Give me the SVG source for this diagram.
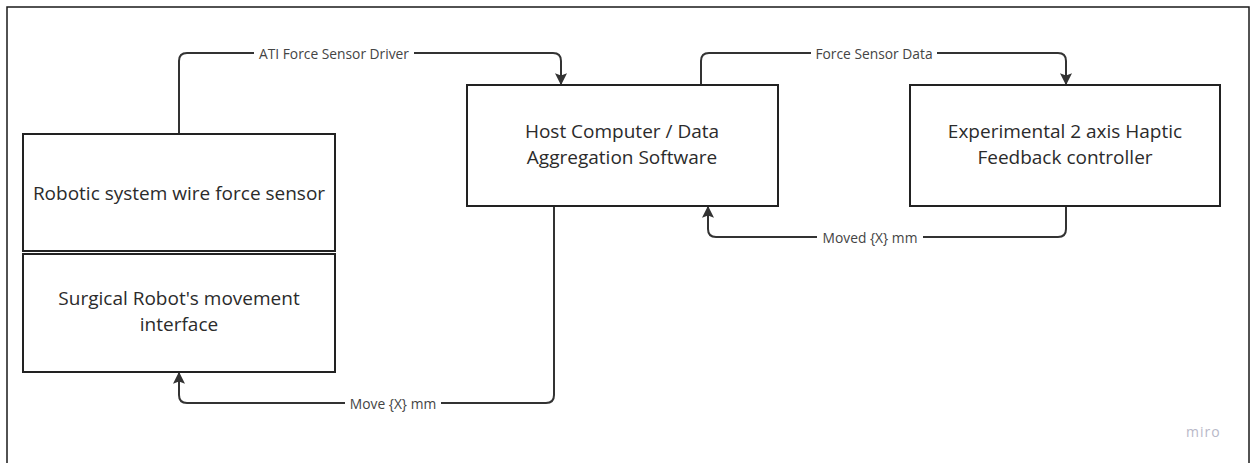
<svg xmlns="http://www.w3.org/2000/svg" width="1253" height="463" viewBox="0 0 1253 463">
<style>
.frame{fill:#fff;stroke:#1a1a1a;stroke-width:1.5}
.box{fill:#fff;stroke:#222;stroke-width:2}
.t{font-family:"Open Sans","Liberation Sans",sans-serif;font-size:19px;fill:#2b2b2b;text-anchor:middle;dominant-baseline:central}
.lbl{font-family:"Open Sans","Liberation Sans",sans-serif;font-size:13.8px;fill:#444;text-anchor:middle;dominant-baseline:central}
.lblbg{fill:#fff}
.c{fill:none;stroke:#333;stroke-width:2;stroke-linejoin:round}
.miro{font-family:"Open Sans","Liberation Sans",sans-serif;font-size:14px;fill:#b8b8c8;letter-spacing:1px}
</style>
<defs>
<marker id="ah" viewBox="0 0 10 10" refX="9" refY="5" markerWidth="6" markerHeight="6" orient="auto" markerUnits="strokeWidth">
<path d="M0,0 L10,5 L0,10 L2,5 z" fill="#333"/>
</marker>
</defs>
<rect class="frame" x="7" y="7" width="1242" height="480"/>
<g id="connectors">
<path class="c" d="M179,133 V61 Q179,53 187,53 H553 Q561,53 561,61 V84" marker-end="url(#ah)"/>
<rect class="lblbg" x="254" y="44" width="160" height="18"/>
<text class="lbl" x="334" y="53">ATI Force Sensor Driver</text>
<path class="c" d="M701,85 V61 Q701,53 709,53 H1058 Q1066,53 1066,61 V84" marker-end="url(#ah)"/>
<rect class="lblbg" x="811" y="44" width="126" height="18"/>
<text class="lbl" x="874" y="53">Force Sensor Data</text>
<path class="c" d="M1066,206 V229 Q1066,237 1058,237 H716 Q708,237 708,229 V207" marker-end="url(#ah)"/>
<rect class="lblbg" x="817" y="228" width="106" height="18"/>
<text class="lbl" x="870" y="237">Moved {X} mm</text>
<path class="c" d="M554,206 V395 Q554,403 546,403 H187 Q179,403 179,395 V373" marker-end="url(#ah)"/>
<rect class="lblbg" x="345" y="394" width="96" height="18"/>
<text class="lbl" x="393" y="403">Move {X} mm</text>
</g>
<g id="node-sensor">
<rect class="box" x="23" y="134" width="312" height="117"/>
<text class="t" x="179" y="193">Robotic system wire force sensor</text>
</g>
<g id="node-movement">
<rect class="box" x="23" y="254" width="312" height="118"/>
<text class="t" x="179" y="298">Surgical Robot's movement</text>
<text class="t" x="179" y="324">interface</text>
</g>
<g id="node-host">
<rect class="box" x="467" y="85" width="311" height="121"/>
<text class="t" x="622" y="131">Host Computer / Data</text>
<text class="t" x="622" y="157">Aggregation Software</text>
</g>
<g id="node-haptic">
<rect class="box" x="910" y="85" width="310" height="121"/>
<text class="t" x="1065" y="131">Experimental 2 axis Haptic</text>
<text class="t" x="1065" y="157">Feedback controller</text>
</g>
<text class="miro" x="1186" y="437">miro</text>
</svg>
